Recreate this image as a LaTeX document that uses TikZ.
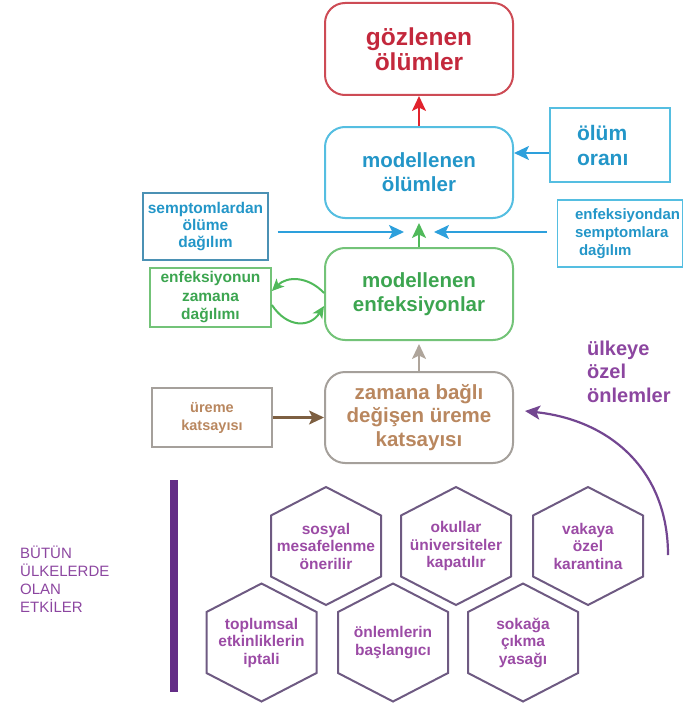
\documentclass[tikz,border=0pt]{standalone}
\usepackage{fontspec}
\setmainfont{Liberation Sans}
\usetikzlibrary{arrows.meta}
\definecolor{redtx}{RGB}{195,40,60}
\definecolor{redbd}{RGB}{205,75,85}
\definecolor{redar}{RGB}{225,35,45}
\definecolor{bluetx}{RGB}{35,150,200}
\definecolor{bluebd}{RGB}{85,190,225}
\definecolor{bluethin}{RGB}{75,145,180}
\definecolor{bluear}{RGB}{45,160,220}
\definecolor{greentx}{RGB}{60,165,80}
\definecolor{greenbd}{RGB}{115,195,120}
\definecolor{greenar}{RGB}{80,185,90}
\definecolor{browntx}{RGB}{185,135,95}
\definecolor{brownbd}{RGB}{165,160,155}
\definecolor{brownar}{RGB}{125,95,65}
\definecolor{taupear}{RGB}{175,165,155}
\definecolor{purpletx}{RGB}{140,70,160}
\definecolor{purplear}{RGB}{115,70,145}
\definecolor{purplebar}{RGB}{100,45,135}
\definecolor{hextx}{RGB}{155,75,165}
\definecolor{hexbd}{RGB}{110,90,130}
\newcommand{\hexcell}[4]{%
  \node[hextext] (#1) at (#2,#3) {#4};
  \draw[hexline] (#2,{#3-59}) -- ++(55,28.5) -- ++(0,61) -- ++(-55,28.5) -- ++(-55,-28.5) -- ++(0,-61) -- cycle;
}
\begin{document}
\begin{tikzpicture}[x=1pt,y=-1pt,
  big/.style={draw, line width=2pt, rounded corners=20pt, minimum width=188pt, align=center, inner sep=3pt, font=\bfseries\fontsize{20.5}{24}\selectfont},
  small/.style={draw, line width=1.4pt, align=center, inner sep=3pt, font=\bfseries\fontsize{15.5}{17}\selectfont},
  arr/.style={line width=2.3pt, -{Stealth[length=15pt,width=14pt,inset=3.5pt]}},
  looparr/.style={line width=2pt, -{Stealth[length=12pt,width=11pt,inset=3pt]}},
  hextext/.style={text=hextx, align=center, font=\bfseries\fontsize{15.5}{17.5}\selectfont},
  hexline/.style={draw=hexbd, line width=2pt, line join=miter},
]
\useasboundingbox (0,0) rectangle (684,706);

% main boxes
\node[big, draw=redbd, text=redtx, minimum height=92pt, font=\bfseries\fontsize{24.5}{25.5}\selectfont] (obs) at (419,49) {gözlenen\\ölümler};
\node[big, draw=bluebd, text=bluetx, minimum height=91pt] (mdeath) at (419,172.5) {modellenen\\ölümler};
\node[big, draw=greenbd, text=greentx, minimum height=92pt] (minf) at (419,294) {modellenen\\enfeksiyonlar};
\node[big, draw=brownbd, text=browntx, minimum height=91pt, font=\bfseries\fontsize{20.5}{23.5}\selectfont] (zam) at (419,417.5) {zamana bağlı\\değişen üreme\\katsayısı};

% side boxes
\node[small, draw=bluebd, line width=1.8pt, text=bluetx, minimum width=120pt, minimum height=74pt, text width=66pt, align=left, font=\bfseries\fontsize{21}{25}\selectfont] (oran) at (610,145) {ölüm\\oranı};
\node[small, draw=bluethin, line width=1.1pt, text=bluetx, minimum width=125pt, minimum height=67pt, font=\bfseries\fontsize{15.5}{17}\selectfont] (semp) at (205.5,226.5) {semptomlardan\\ölüme\\dağılım};
\node[small, draw=bluebd, line width=1.1pt, text=bluetx, minimum width=125pt, minimum height=67pt, text width=90pt, align=left, font=\bfseries\fontsize{15}{18}\selectfont] (enf) at (620,233.5) {\mbox{enfeksiyondan}\\semptomlara\\\hspace*{4pt}dağılım};
\node[small, draw=greenbd, line width=1.8pt, text=greentx, minimum width=121pt, minimum height=59pt, font=\bfseries\fontsize{15.5}{18.5}\selectfont] (enfz) at (210.5,297.5) {enfeksiyonun\\zamana\\dağılımı};
\node[small, draw=brownbd, line width=1.8pt, text=browntx, minimum width=120pt, minimum height=59pt, font=\bfseries\fontsize{14.5}{18}\selectfont] (ure) at (212,417.5) {üreme\\katsayısı};

% free texts
\node[text=purpletx, anchor=west, align=left, inner sep=0pt, font=\bfseries\fontsize{20}{23.5}\selectfont] (ulke) at (587,371.5) {ülkeye\\özel\\önlemler};
\node[text=purpletx, anchor=west, align=left, inner sep=0pt, font=\fontsize{15}{18}\selectfont] (butun) at (20,579) {BÜTÜN\\ÜLKELERDE\\OLAN\\ETKİLER};
\fill[purplebar] (170,480) rectangle (178,692);

% connectors
\coordinate (lt) at (404,232);
\coordinate (rt) at (434,232);
\coordinate (pstart) at (668,555);
\draw[arr, redar] (mdeath.north) -- (obs.south);
\draw[arr, bluear] (oran.west |- 0,153) -- (mdeath.east |- 0,153);
\draw[arr, bluear, shorten <=9pt] (semp.east |- lt) -- (lt);
\draw[arr, bluear, shorten <=10pt] (enf.west |- rt) -- (rt);
\draw[arr, greenar] (minf.north) -- ([yshift=-4pt]mdeath.south);
\draw[arr, taupear] (zam.north) -- ([yshift=-3pt]minf.south);
\draw[arr, brownar] (ure.east) -- (zam.west);
\draw[looparr, greenar] ([yshift=1pt]minf.west) .. controls (308,276) and (287,276) .. ([yshift=6.5pt]enfz.east);
\draw[looparr, greenar] ([yshift=-7.5pt]enfz.east) .. controls (287,328) and (310,328) .. ([yshift=-12pt]minf.west);
\draw[arr, purplear, line width=2.2pt] (pstart) .. controls (668,470) and (610,420) .. ([xshift=11pt,yshift=6.5pt]zam.east);

% hexagons
\hexcell{h1}{326}{546}{sosyal\\mesafelenme\\önerilir}
\hexcell{h2}{456}{546}{okullar\\üniversiteler\\kapatılır}
\hexcell{h3}{588}{546}{vakaya\\özel\\karantina}
\hexcell{h4}{261.5}{642.5}{toplumsal\\etkinliklerin\\iptali}
\hexcell{h5}{393}{642.5}{önlemlerin\\başlangıcı}
\hexcell{h6}{523}{642.5}{sokağa\\çıkma\\yasağı}
\end{tikzpicture}
\end{document}
